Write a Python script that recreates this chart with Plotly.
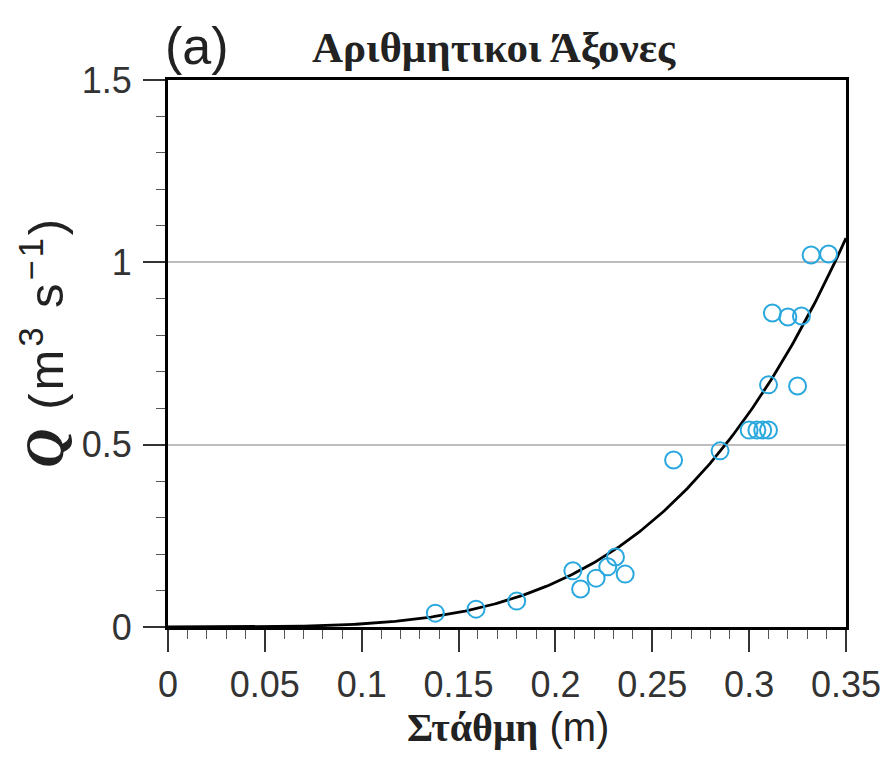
import numpy as np
import plotly.graph_objects as go

# Observed stage (m) and discharge (m^3/s)
stage = [0.138, 0.159, 0.180, 0.209, 0.213, 0.221, 0.227, 0.231, 0.236,
         0.261, 0.285, 0.300, 0.304, 0.307, 0.310, 0.310, 0.325,
         0.312, 0.320, 0.327, 0.332, 0.341]
discharge = [0.038, 0.049, 0.071, 0.154, 0.104, 0.134, 0.165, 0.192, 0.145,
             0.458, 0.483, 0.540, 0.540, 0.540, 0.540, 0.664, 0.661,
             0.861, 0.850, 0.853, 1.020, 1.023]

# Rating curve Q = a * h^b
coef_a = 62.0
coef_b = 3.87

x_ticks = [0, 0.05, 0.1, 0.15, 0.2, 0.25, 0.3, 0.35]
x_tick_text = ["0", "0.05", "0.1", "0.15", "0.2", "0.25", "0.3", "0.35"]
y_ticks = [0, 0.5, 1, 1.5]
y_tick_text = ["0", "0.5", "1", "1.5"]

h_fit = np.linspace(0, 0.35, 300)
q_fit = coef_a * h_fit ** coef_b

fig = go.Figure()
fig.add_trace(go.Scatter(
    x=h_fit, y=q_fit, mode="lines",
    line=dict(color="black", width=2.8),
    hoverinfo="skip", showlegend=False))
fig.add_trace(go.Scatter(
    x=stage, y=discharge, mode="markers",
    marker=dict(symbol="circle-open", size=17, color="#2AA8DE",
                line=dict(width=2, color="#2AA8DE")),
    showlegend=False))

sans = "Liberation Sans, Arial, sans-serif"
serif = "Liberation Serif, Times New Roman, serif"
tick_font = dict(family=sans, size=36, color="#333333")

fig.update_xaxes(
    range=[0, 0.35], tickvals=x_ticks, ticktext=x_tick_text,
    showgrid=False, zeroline=False,
    showline=True, linecolor="black", linewidth=3, mirror=True,
    ticks="outside", ticklen=22, tickwidth=1.5, tickcolor="#333333",
    minor=dict(dtick=0.01, ticks="outside", ticklen=9, tickwidth=1.2,
               tickcolor="#555555", showgrid=False),
    tickfont=tick_font, ticklabelstandoff=2)
fig.update_yaxes(
    range=[0, 1.5], tickvals=y_ticks, ticktext=y_tick_text,
    showgrid=True, gridcolor="#BDBDBD", gridwidth=2, zeroline=False,
    showline=True, linecolor="black", linewidth=3, mirror=True,
    ticks="outside", ticklen=22, tickwidth=1.5, tickcolor="#333333",
    minor=dict(dtick=0.1, ticks="outside", ticklen=9, tickwidth=1.2,
               tickcolor="#555555", showgrid=False),
    tickfont=tick_font, ticklabelstandoff=4)


def px_x(px):
    return (px - 168) / 682


def px_y(py):
    return (627 - py) / 547


fig.update_layout(
    width=893, height=759,
    margin=dict(l=168, r=43, t=80, b=132),
    plot_bgcolor="white", paper_bgcolor="white",
    annotations=[
        dict(text="(a)", xref="paper", yref="paper", x=px_x(163), y=px_y(46),
             xanchor="left", yanchor="middle", showarrow=False,
             font=dict(family=sans, size=52, color="#222222")),
        dict(text="<b>Αριθμητικοι Άξονες</b>", xref="paper", yref="paper",
             x=px_x(496), y=px_y(47), xanchor="center", yanchor="middle",
             showarrow=False,
             font=dict(family=serif, size=43, color="#222222")),
        # y-axis title: bold italic Q followed by the units
        dict(text="<b><i>Q</i></b>",
             xref="paper", yref="paper", x=px_x(44), y=px_y(448),
             xanchor="center", yanchor="middle", textangle=-90, showarrow=False,
             font=dict(family=serif, size=54, color="#222222")),
        dict(text="<span style='letter-spacing:3px'>(m<sup>3</sup> s<sup>−1</sup>)</span>",
             xref="paper", yref="paper", x=px_x(42), y=px_y(313),
             xanchor="center", yanchor="middle", textangle=-90, showarrow=False,
             font=dict(family=sans, size=49, color="#222222")),
        dict(text="<span style='font-family:Liberation Serif'><b>Στάθμη</b></span> (m)",
             xref="paper", yref="paper", x=px_x(510), y=px_y(727),
             xanchor="center", yanchor="middle", showarrow=False,
             font=dict(family=sans, size=40, color="#222222")),
    ],
)

fig.write_html("out.html")
